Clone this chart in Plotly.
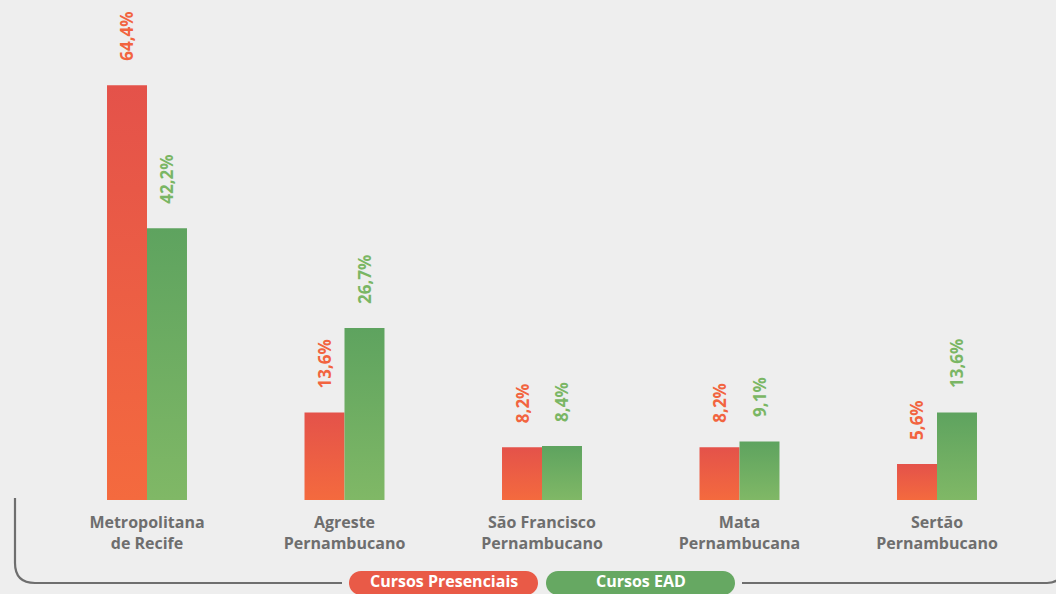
import plotly.graph_objects as go

# Distribution of enrolments by region
regioes = ["Metropolitana<br>de Recife", "Agreste<br>Pernambucano", "São Francisco<br>Pernambucano",
           "Mata<br>Pernambucana", "Sertão<br>Pernambucano"]
presenciais = [64.4, 13.6, 8.2, 8.2, 5.6]
ead = [42.2, 26.7, 8.4, 9.1, 13.6]
series_nomes = ["Cursos Presenciais", "Cursos EAD"]

BG = "#eeeeee"
GRAY = "#6e6e6e"
RED_TOP, RED_BOT = "#e4524a", "#f46a3e"
GRN_TOP, GRN_BOT = "#5ea35f", "#80b866"
RED_TXT, GRN_TXT = "#f2643f", "#7ab664"
FONT = "Open Sans"

W, H = 1056, 594
BAR_W = 0.2025  # width of one bar in category units

fig = go.Figure()


def add_bar(i, value, offset, top, bottom, name):
    x0 = i + offset
    x1 = x0 + BAR_W
    fig.add_trace(go.Scatter(
        x=[x0, x1, x1, x0, x0], y=[0, 0, value, value, 0],
        mode="lines", line=dict(width=0), fill="toself",
        fillgradient=dict(type="vertical", colorscale=[[0, bottom], [1, top]]),
        name=name, legendgroup=name, showlegend=False, hoverinfo="skip",
    ))


for i, (p, e) in enumerate(zip(presenciais, ead)):
    add_bar(i, p, -BAR_W, RED_TOP, RED_BOT, series_nomes[0])
    add_bar(i, e, 0, GRN_TOP, GRN_BOT, series_nomes[1])

annotations = []
for i, (p, e) in enumerate(zip(presenciais, ead)):
    for v, off, col in ((p, -BAR_W / 2, RED_TXT), (e, BAR_W / 2, GRN_TXT)):
        annotations.append(dict(
            x=i + off, y=v, xref="x", yref="y",
            text=f"{v:.1f}%".replace(".", ","), showarrow=False,
            textangle=-90, xanchor="center", yanchor="bottom", yshift=22,
            font=dict(family=FONT, size=17, color=col, weight="bold"),
        ))

# legend pills under the chart
pills = [(349, 538, "#e95a47", series_nomes[0]), (546, 735, "#66a862", series_nomes[1])]
shapes = []
k = 0.5523
for x0, x1, col, txt in pills:
    r = 12
    yc = -83
    yt, yb = yc + r, yc - r
    path = (f"M {x0 + r},{yt} L {x1 - r},{yt} "
            f"C {x1 - r + k * r},{yt} {x1},{yc + k * r} {x1},{yc} "
            f"C {x1},{yc - k * r} {x1 - r + k * r},{yb} {x1 - r},{yb} "
            f"L {x0 + r},{yb} "
            f"C {x0 + r - k * r},{yb} {x0},{yc - k * r} {x0},{yc} "
            f"C {x0},{yc + k * r} {x0 + r - k * r},{yt} {x0 + r},{yt} Z")
    shapes.append(dict(type="path", xref="paper", yref="paper", xsizemode="pixel", ysizemode="pixel",
                       xanchor=0, yanchor=0, path=path, fillcolor=col, line=dict(width=0), layer="above"))
    annotations.append(dict(
        x=0, y=0, xref="paper", yref="paper", xshift=(x0 + x1) / 2, yshift=-94,
        text=txt, showarrow=False, xanchor="center", yanchor="bottom",
        font=dict(family=FONT, size=16, color="white", weight="bold"),
    ))

# bracket line framing the category labels
bracket = ("M 15,2 L 15,-63 Q 15,-83 35,-83 L 342,-83 "
           "M 742,-83 L 1047,-83 Q 1062,-83 1062,-68 L 1062,2")
shapes.append(dict(type="path", xref="paper", yref="paper", xsizemode="pixel", ysizemode="pixel",
                   xanchor=0, yanchor=0, path=bracket, line=dict(color=GRAY, width=2.2), layer="above"))

fig.update_layout(
    width=W, height=H,
    margin=dict(l=0, r=0, t=0, b=94),
    paper_bgcolor=BG, plot_bgcolor=BG,
    showlegend=False,
    xaxis=dict(range=[-147 / 197.5, (W - 147) / 197.5], tickmode="array",
               tickvals=list(range(len(regioes))), ticktext=regioes,
               showgrid=False, zeroline=False, showline=False, ticks="",
               ticklabelstandoff=11,
               tickfont=dict(family=FONT, size=16, color=GRAY, weight="bold"),
               fixedrange=True),
    yaxis=dict(range=[0, 500 / 6.44], visible=False, showgrid=False, zeroline=False, fixedrange=True),
    annotations=annotations,
    shapes=shapes,
)

fig.write_html("out.html")
